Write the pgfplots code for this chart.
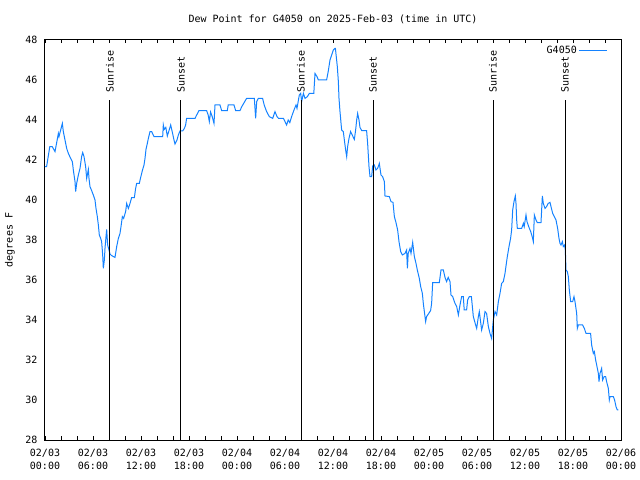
\documentclass[border=0pt]{standalone}
\usepackage{pgfplots}
\pgfplotsset{compat=1.18}
\usepackage{fontspec}
\setmainfont{DejaVu Sans Mono}
\definecolor{dew}{RGB}{20,130,255}
\pgfplotstableread{
h v
0.0 41.67
0.2 41.67
0.4 42.17
0.6 42.67
0.9 42.67
1.25 42.42
1.46 42.87
1.67 43.33
1.75 43.17
1.96 43.5
2.17 43.83
2.29 43.42
2.5 43.0
2.71 42.58
2.92 42.33
3.21 42.08
3.42 41.92
3.54 41.5
3.75 40.92
3.83 40.42
3.96 40.83
4.17 41.25
4.375 41.58
4.58 42.17
4.71 42.37
4.875 42.17
5.08 41.67
5.21 41.08
5.42 41.53
5.5 41.08
5.625 40.67
5.83 40.47
6.04 40.25
6.25 40.0
6.375 39.58
6.54 39.17
6.67 38.75
6.79 38.25
6.96 38.08
7.08 37.92
7.21 37.25
7.29 36.58
7.42 37.0
7.5 37.58
7.625 38.17
7.71 38.53
7.83 37.75
8.0 37.5
8.125 37.3
8.33 37.22
8.75 37.13
8.96 37.67
9.17 38.08
9.375 38.33
9.5 38.67
9.67 39.17
9.83 39.08
10.08 39.42
10.21 39.83
10.42 39.58
10.625 39.83
10.83 40.12
11.17 40.12
11.33 40.58
11.46 40.83
11.79 40.83
11.96 41.13
12.17 41.47
12.375 41.75
12.5 42.08
12.625 42.53
12.79 42.83
12.92 43.08
13.125 43.42
13.33 43.42
13.625 43.17
14.71 43.17
14.79 43.75
14.9 43.53
15.1 43.63
15.29 43.2
15.5 43.47
15.71 43.75
15.9 43.42
16.125 43.0
16.25 42.8
16.5 43.0
16.67 43.25
16.875 43.45
17.2 43.45
17.42 43.58
17.58 43.75
17.7 44.08
18.75 44.08
18.96 44.25
19.25 44.47
20.2 44.47
20.4 44.25
20.54 43.92
20.7 44.4
20.9 44.17
21.125 43.83
21.25 44.75
21.875 44.75
22.08 44.47
22.79 44.47
22.9 44.75
23.625 44.75
23.83 44.47
24.375 44.47
24.6 44.67
25.2 45.08
26.17 45.08
26.33 44.08
26.46 44.92
26.67 45.08
27.2 45.08
27.4 44.75
27.7 44.42
28.04 44.17
28.46 44.08
28.75 44.42
29.0 44.17
29.2 44.08
29.8 44.08
30.0 43.92
30.2 43.75
30.4 44.0
30.6 43.87
30.83 44.17
31.125 44.5
31.375 44.75
31.5 44.58
31.79 45.25
31.96 45.33
32.08 44.92
32.3 45.33
32.5 45.08
32.8 45.17
33.04 45.33
33.6 45.33
33.75 46.33
34.0 46.17
34.17 46.0
35.2 46.0
35.4 46.42
35.625 47.0
35.83 47.25
36.04 47.5
36.25 47.58
36.3 47.58
36.54 46.67
36.67 45.92
36.75 45.08
36.875 44.42
37.08 43.5
37.29 43.42
37.42 43.0
37.58 42.5
37.71 42.17
37.83 42.67
38.0 43.08
38.2 43.42
38.4 43.25
38.67 43.03
38.83 43.5
38.96 44.0
39.08 44.33
39.25 44.0
39.375 43.63
39.58 43.47
40.2 43.47
40.33 42.83
40.5 41.67
40.625 41.17
40.83 41.17
40.96 41.7
41.17 41.75
41.375 41.5
41.58 41.58
41.79 41.83
42.0 41.25
42.2 41.17
42.42 40.92
42.5 40.2
43.04 40.17
43.25 39.92
43.5 39.88
43.67 39.17
43.875 38.87
44.08 38.5
44.25 37.92
44.46 37.42
44.67 37.25
45.0 37.33
45.2 37.5
45.3 36.58
45.4 37.33
45.625 37.58
45.75 37.33
45.96 37.88
46.17 37.17
46.375 36.83
46.54 36.5
46.79 36.08
46.96 35.67
47.17 35.33
47.29 34.83
47.42 34.42
47.58 33.92
47.7 34.17
47.92 34.3
48.2 34.47
48.33 34.83
48.46 35.87
49.29 35.87
49.5 36.5
49.79 36.5
50.0 36.13
50.2 35.92
50.4 36.13
50.625 35.92
50.75 35.25
50.96 35.17
51.25 34.83
51.46 34.67
51.67 34.25
51.875 34.75
52.08 35.17
52.29 35.17
52.4 34.5
52.7 34.5
52.83 35.0
53.04 35.17
53.3 35.17
53.54 34.17
53.83 33.75
53.96 33.58
54.17 34.17
54.29 34.42
54.58 33.5
54.79 33.83
55.0 34.42
55.2 34.33
55.42 33.67
55.625 33.33
55.83 33.08
56.04 34.0
56.25 34.42
56.46 34.25
56.67 34.92
56.875 35.33
57.08 35.83
57.29 35.92
57.5 36.33
57.625 36.7
57.79 37.17
58.0 37.67
58.2 38.08
58.33 38.5
58.46 39.5
58.625 39.92
58.79 40.2
58.875 39.83
58.96 39.0
59.04 38.58
59.58 38.58
59.8 38.83
59.9 38.67
60.125 39.25
60.25 38.92
60.46 38.67
60.71 38.42
60.9 38.17
61.04 37.92
61.17 39.25
61.375 39.0
61.54 38.87
62.0 38.87
62.08 39.5
62.17 40.2
62.29 39.83
62.5 39.58
62.7 39.67
62.9 39.83
63.125 39.88
63.25 39.67
63.46 39.33
63.67 39.17
63.875 39.0
64.08 38.58
64.25 38.08
64.375 37.83
64.5 37.75
64.67 37.92
64.79 37.67
64.96 37.75
65.04 37.5
65.125 36.5
65.29 36.42
65.42 36.17
65.54 35.5
65.71 34.92
65.96 34.92
66.125 35.17
66.25 34.92
66.46 34.33
66.54 33.58
66.67 33.75
67.2 33.75
67.42 33.58
67.625 33.33
68.2 33.33
68.33 32.75
68.54 32.33
68.67 32.42
68.83 32.0
68.96 31.75
69.17 31.33
69.25 30.92
69.375 31.33
69.58 31.58
69.7 31.0
69.9 31.17
70.08 31.17
70.2 30.92
70.42 30.58
70.54 30.0
70.625 30.17
71.04 30.17
71.2 30.0
71.375 29.67
71.54 29.5
71.67 29.5
}\dewtable
\begin{document}
\fontsize{10bp}{12bp}\selectfont
\begin{tikzpicture}
\begin{axis}[
  scale only axis, width=576bp, height=400bp,
  at={(0,0)}, anchor=south west,
  xmin=0, xmax=72, ymin=28, ymax=48,
  clip=false,
  axis line style={line width=1bp},
  xtick={0,6,...,72},
  minor xtick={2,4,8,10,14,16,20,22,26,28,32,34,38,40,44,46,50,52,56,58,62,64,68,70},
  xticklabels={{02/03\\00:00},{02/03\\06:00},{02/03\\12:00},{02/03\\18:00},{02/04\\00:00},{02/04\\06:00},{02/04\\12:00},{02/04\\18:00},{02/05\\00:00},{02/05\\06:00},{02/05\\12:00},{02/05\\18:00},{02/06\\00:00}},
  xticklabel style={align=center, yshift=-6bp, font=\fontsize{10bp}{13bp}\selectfont},
  yticklabel style={xshift=-4bp, font=\fontsize{10bp}{12bp}\selectfont},
  ytick={28,30,...,48},
  major tick length=3.5bp, minor tick length=3.5bp,
  tick style={black, line width=0.8bp},
  ytick style={draw=none},
  tick align=inside,
  /pgf/number format/assume math mode=true,
  legend style={draw=none, fill=none, at={(rel axis cs:1,1)}, anchor=north east,
    xshift=-10bp, yshift=-2bp, font=\fontsize{10bp}{12bp}\selectfont},
  legend plot pos=right,
  legend image code/.code={\draw[#1] (0bp,0bp) -- (28bp,0bp);},
]
\addplot[dew, line width=1bp] table[x=h, y=v] {\dewtable};
\addlegendentry{G4050}
\addplot[black, line width=1bp, forget plot] coordinates {(8.125,28) (8.125,45)};
\addplot[black, line width=1bp, forget plot] coordinates {(17,28) (17,45)};
\addplot[black, line width=1bp, forget plot] coordinates {(32,28) (32,45)};
\addplot[black, line width=1bp, forget plot] coordinates {(41,28) (41,45)};
\addplot[black, line width=1bp, forget plot] coordinates {(56,28) (56,45)};
\addplot[black, line width=1bp, forget plot] coordinates {(65,28) (65,45)};
\node[rotate=90, anchor=west, inner sep=0pt] at (axis cs:8.125,45.35) {Sunrise};
\node[rotate=90, anchor=west, inner sep=0pt] at (axis cs:17,45.35) {Sunset};
\node[rotate=90, anchor=west, inner sep=0pt] at (axis cs:32,45.35) {Sunrise};
\node[rotate=90, anchor=west, inner sep=0pt] at (axis cs:41,45.35) {Sunset};
\node[rotate=90, anchor=west, inner sep=0pt] at (axis cs:56,45.35) {Sunrise};
\node[rotate=90, anchor=west, inner sep=0pt] at (axis cs:65,45.35) {Sunset};
\node at (rel axis cs:0.5,1) [yshift=21bp] {Dew Point for G4050 on 2025-Feb-03 (time in UTC)};
\node[xshift=-35bp, rotate=90] at (rel axis cs:0,0.5) {degrees F};
\end{axis}
\pgfresetboundingbox
\useasboundingbox (-45bp,-40bp) rectangle (595bp,440bp);
\end{tikzpicture}
\end{document}
